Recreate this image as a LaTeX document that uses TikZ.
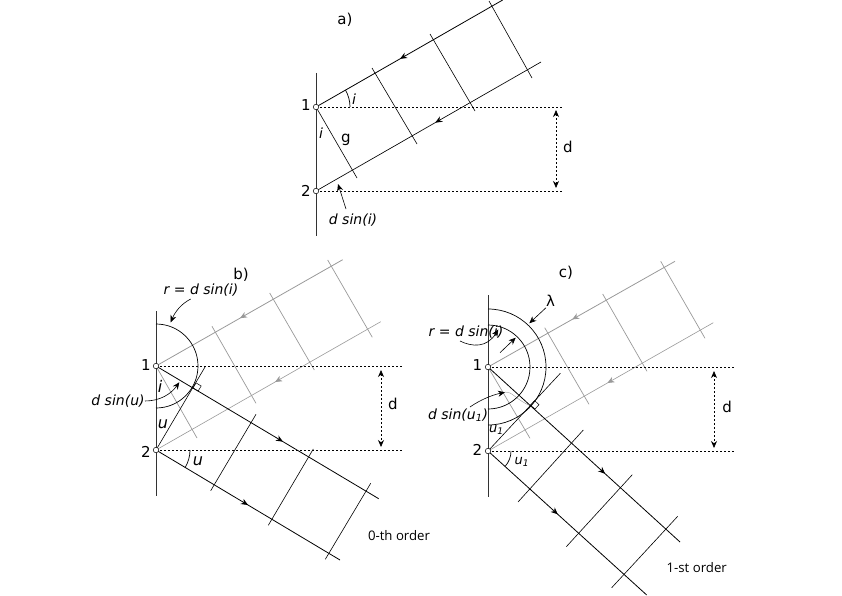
\documentclass[tikz,border=0pt]{standalone}
\usepackage{fontspec}
\setmainfont{DejaVu Sans}
\newfontfamily\orderfont{Open Sans}
\usetikzlibrary{arrows.meta,decorations.markings}
\definecolor{raygray}{HTML}{999999}
\tikzset{
  wall/.style={line width=0.9pt,draw=black!80},
  ray/.style={line width=0.8pt,draw=black},
  front/.style={line width=0.6pt,draw=black},
  gray ray/.style={line width=0.8pt,draw=raygray},
  gray front/.style={line width=0.7pt,draw=raygray},
  level/.style={line width=0.7pt,draw=black,dash pattern=on 2pt off 2pt},
  dim/.style={line width=0.7pt,draw=black,dash pattern=on 2pt off 2pt,{Stealth[length=7pt,width=6pt,fill=black]}-{Stealth[length=7pt,width=6pt,fill=black]}},
  lead/.style={line width=0.6pt,draw=black,-{Stealth[length=7pt,width=6pt]}},
  marc/.style={line width=0.7pt,draw=black},
  slit/.style={circle,draw=black,fill=white,line width=0.5pt,inner sep=0pt,minimum size=5.5pt},
  lab/.style={font=\fontsize{15}{17}\selectfont,inner sep=0pt},
  ilab/.style={font=\fontsize{14}{16}\selectfont\itshape,inner sep=0pt},
  blab/.style={font=\fontsize{16}{18}\selectfont\itshape,inner sep=0pt},
  slab/.style={font=\fontsize{13}{15}\selectfont\itshape,inner sep=0pt},
  small/.style={font=\fontsize{13.2}{15}\selectfont\orderfont,inner sep=0pt},
  ma/.style={postaction={decorate},decoration={markings,mark=at position #1 with {\arrow{Stealth[length=7pt,width=6pt]}}}},
}
\begin{document}
\begin{tikzpicture}[x=1pt,y=-1pt]
\useasboundingbox (0,0) rectangle (842,596);
% ---------- panel a
\coordinate (a1) at (316,107);
\coordinate (a2) at (316,191);
\coordinate (awt) at (316,73);
\coordinate (awb) at (316,236);
\coordinate (aru) at (502.7,0);
\coordinate (arl) at (541,62);
\coordinate (ag) at (357,178);
\coordinate (af2a) at (372,68);   \coordinate (af2b) at (417,144);
\coordinate (af3a) at (430,34);   \coordinate (af3b) at (475,111);
\coordinate (af4a) at (489,1);    \coordinate (af4b) at (532,78);
\coordinate (ad1) at (563,107);   \coordinate (ad2) at (563,191);
\coordinate (adt) at (556,110);   \coordinate (adb) at (556,188);
\draw[level] (a1)--(ad1);
\draw[level] (a2)--(ad2);
\draw[dim] (adt)--(adb);
\draw[ray,ma=0.55] (aru)--(a1);
\draw[ray,ma=0.47,line width=0.65pt] (arl)--(a2);
\draw[front] (a1)--(ag);
\draw[front] (af2a)--(af2b);
\draw[front] (af3a)--(af3b);
\draw[front] (af4a)--(af4b);
\draw[wall] (awt)--(awb);
\draw[marc] (350,107) arc[start angle=0,end angle=30,radius=34pt];
\node[slit] (as1) at (a1) {};
\node[slit] (as2) at (a2) {};
\node[lab] (atitle) at (345,20) {a)};
\node[lab] (al1) at (306,105) {1};
\node[lab] (al2) at (306,191) {2};
\node[ilab] (ai1) at (354,99) {i};
\node[ilab] (ai2) at (321,133) {i};
\node[lab] (ag lab) at (346,140) {g};
\node[lab] (adl) at (568,147) {d};
\node[ilab] (ads) at (353,220) {d sin(i)};
\coordinate (adst) at (338,184);
\draw[lead] (346,209)--(adst);
% ---------- panel b
\coordinate (b1) at (156,366);
\coordinate (b2) at (156,450);
\coordinate (bwt) at (156,311);
\coordinate (bwb) at (156,496);
\coordinate (bgu) at (342.7,259.7);
\coordinate (bgl) at (380.7,321.7);
\coordinate (bgg) at (197,438);
\coordinate (bd1) at (402,366); \coordinate (bd2) at (402,450);
\draw[gray ray,ma=0.55,raygray] (bgu)--(b1);
\draw[gray ray,ma=0.47,raygray,line width=0.6pt] (bgl)--(b2);
\draw[gray front] (b1)--(bgg);
\draw[gray front] (212,326.3)--(256,403.3);
\draw[gray front] (269.7,293)--(314.3,370);
\draw[gray front] (327.7,260)--(372.3,337.3);
\draw[level] (b1)--(bd1);
\draw[level] (b2)--(bd2);
\draw[dim] (381,370)--(381,447);
\coordinate (bru) at (378.7,498.7);
\coordinate (brl) at (340,560);
\coordinate (bf1) at (205,367);
\draw[ray,ma=0.57] (b1)--(bru);
\draw[ray,ma=0.50] (b2)--(brl);
\draw[front] (b2)--(bf1);
\draw[front] (256,414.3)--(210.7,490.7);
\draw[front] (313.3,449)--(268.3,525.3);
\draw[front] (370.7,483.3)--(325.3,559.3);
\draw[wall] (bwt)--(bwb);
\draw[marc] (156,324) arc[start angle=90,end angle=-90,radius=42pt];
\draw[marc] (190,450) arc[start angle=0,end angle=-31,radius=34pt];
\draw[line width=0.5pt] (193,388)--(198.1,391.1)--(201.2,386)--(196.1,382.9)--cycle;
\node[slit] (bs1) at (b1) {};
\node[slit] (bs2) at (b2) {};
\node[lab] (btitle) at (241,275) {b)};
\node[lab] (bl1) at (146,365) {1};
\node[lab] (bl2) at (146,452) {2};
\node[blab] (bi) at (160,386) {i};
\node[blab] (bu) at (163,424) {u};
\node[blab] (bu2) at (198,461) {u};
\node[lab] (bdl) at (393,404) {d};
\node[ilab] (brl lab) at (201,290) {r = d sin(i)};
\node[ilab] (bds) at (118,401) {d sin(u)};
\draw[lead] (190.7,299) .. controls (181,304) and (175,312) .. (170.7,322.3);
\draw[lead] (145,401) .. controls (160,401) and (171,394) .. (179.3,382.3);
\node[small] (bord) at (399,536) {0-th order};
% ---------- panel c
\coordinate (c1) at (488,367);
\coordinate (c2) at (488,451);
\coordinate (cwt) at (488,295);
\coordinate (cwb) at (488,497);
\coordinate (cgu) at (675,261.3);
\coordinate (cgl) at (713.3,322.7);
\coordinate (cgg) at (530,438.3);
\coordinate (cd1) at (735,367); \coordinate (cd2) at (735,451);
\draw[gray ray,ma=0.55,raygray] (cgu)--(c1);
\draw[gray ray,ma=0.47,raygray,line width=0.6pt] (cgl)--(c2);
\draw[gray front] (c1)--(cgg);
\draw[gray front] (544.7,327.7)--(589,404.3);
\draw[gray front] (602.7,294)--(647,371.3);
\draw[gray front] (660.7,261.3)--(705,338.3);
\draw[level] (c1)--(cd1);
\draw[level] (c2)--(cd2);
\draw[dim] (714,371)--(714,448);
\draw[line width=0.4pt,draw=raygray] (505,392) .. controls (512,391) and (516,400) .. (531,406);
\coordinate (cru) at (680,542);
\coordinate (crl) at (646.7,595);
\coordinate (cf1) at (560.3,373.3);
\draw[ray,ma=0.61] (c1)--(cru);
\draw[ray,ma=0.44] (c2)--(crl);
\draw[front] (c2)--(cf1);
\draw[front] (583.3,430)--(518,502);
\draw[front] (632.3,474.7)--(566.3,546.7);
\draw[front] (677.7,516.3)--(611.7,587.7);
\draw[wall] (cwt)--(cwb);
\draw[marc] (488,325) arc[start angle=90,end angle=-90,radius=42pt];
\draw[marc] (488,309) arc[start angle=90,end angle=-90,radius=58pt];
\draw[marc] (511,451) arc[start angle=0,end angle=-42,radius=23pt];
\draw[line width=0.5pt] (530.5,405)--(534.9,409.1)--(539,404.7)--(534.6,400.6)--cycle;
\node[slit] (cs1) at (c1) {};
\node[slit] (cs2) at (c2) {};
\node[lab] (ctitle) at (566,273) {c)};
\node[lab] (clam) at (550.5,301) {λ};
\node[lab] (cl1) at (477.5,365) {1};
\node[lab] (cl2) at (477.5,450) {2};
\node[slab] (cu1) at (496.5,430) {u\textsubscript{1}};
\node[slab] (cu2) at (522,462) {u\textsubscript{1}};
\node[lab] (cdl) at (727,407) {d};
\node[ilab] (cr) at (466,332) {r = d sin(i)};
\node[ilab] (cds) at (458,415) {d sin(u\textsubscript{1})};
\draw[lead] (546,307.7)--(529.3,323.3);
\draw[lead] (500,352.7)--(515.7,337.7);
\draw[lead] (460,341) .. controls (472,347) and (487,348) .. (498.3,329.5);
\draw[lead] (470,407) .. controls (480,400) and (492,395) .. (505,392.3);
\node[small] (cord) at (696.7,568) {1-st order};
\end{tikzpicture}
\end{document}
